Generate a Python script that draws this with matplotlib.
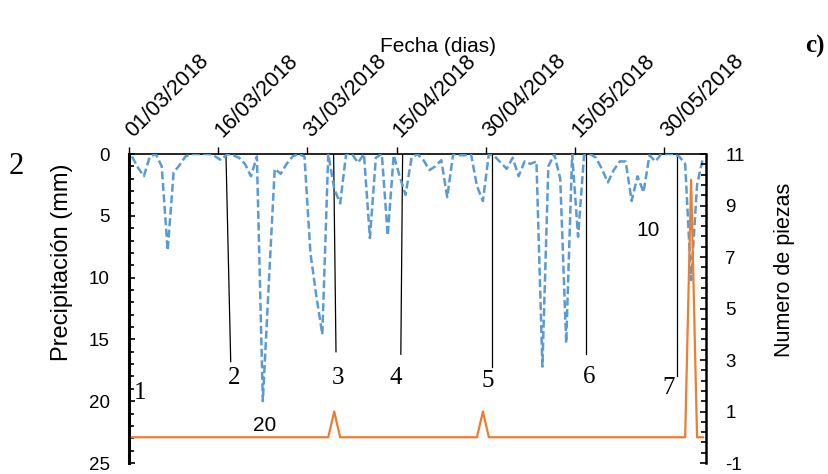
import matplotlib
matplotlib.use("Agg")
import matplotlib.pyplot as plt
import matplotlib.dates as mdates
from matplotlib.ticker import MultipleLocator
import pandas as pd

# daily precipitation (mm), 01/03/2018 .. 05/06/2018
precip = [0.2, 1.1, 1.8, 0.2, 0.0, 1.0, 7.8, 1.5, 0.9, 0.2,
          0.0, 0.0, 0.0, 0.0, 0.2, 0.5, 0.0, 0.1, 0.3, 0.8,
          1.8, 0.2, 20.0, 10.5, 1.2, 1.6, 0.8, 0.2, 0.0, 0.2,
          8.0, 11.5, 14.6, 0.0, 2.8, 4.0, 0.0, 0.0, 0.7, 0.0,
          6.8, 0.3, 0.0, 6.6, 0.1, 1.8, 3.3, 0.3, 0.0, 0.5,
          1.3, 1.0, 0.5, 3.5, 0.0, 0.1, 0.1, 0.0, 2.6, 3.8,
          0.0, 0.2, 0.7, 1.2, 0.3, 1.8, 0.6, 0.8, 0.6, 17.2,
          1.0, 0.0, 2.0, 15.3, 0.0, 6.7, 0.1, 0.0, 0.3, 1.2,
          2.3, 1.3, 0.6, 0.6, 3.8, 1.8, 3.1, 0.1, 0.6, 0.0,
          0.0, 0.0, 0.2, 0.8, 10.2, 2.5, 0.3]

# number of pieces found per day
piezas = [0] * 97
piezas[34] = 1
piezas[59] = 1
piezas[94] = 10

dates = pd.date_range("2018-03-01", periods=len(precip), freq="D")
tick_dates = pd.date_range("2018-03-01", periods=7, freq="15D")

# event markers: label, day at top, day at bottom, lower end (mm), label pos (day, mm)
event_labels = ["2", "3", "4", "5", "6", "7"]
event_day_top = [16.3, 34.4, 46.0, 61.1, 76.8, 92.2]
event_day_bot = [17.1, 34.8, 45.7, 61.1, 76.8, 92.2]
event_end_mm = [16.8, 16.0, 16.2, 17.2, 16.2, 18.0]
event_text_day = [17.6, 35.1, 44.9, 60.3, 77.3, 90.7]
event_text_mm = [18.1, 18.1, 18.1, 18.4, 18.05, 18.9]

blue = "#5B9BD5"
orange = "#ED7D31"

plt.rcParams["font.family"] = ["Liberation Sans", "DejaVu Sans"]
plt.rcParams["axes.unicode_minus"] = False

fig = plt.figure(figsize=(8.29, 4.74), dpi=100)
ax = fig.add_axes([0.1556, 0.0232, 0.696, 0.6519])

x0 = mdates.date2num(dates[0])
xc = mdates.date2num(dates) + 0.5

ax.plot(xc, precip, color=blue, lw=1.8, ls=(0, (3.2, 1.4)), zorder=3)
ax.set_ylim(25, 0)
ax.set_xlim(x0, x0 + 97)
ax.yaxis.set_major_locator(MultipleLocator(5))
ax.yaxis.set_minor_locator(MultipleLocator(1))

ax.xaxis.tick_top()
ax.set_xticks(mdates.date2num(tick_dates))
ax.set_xticklabels([d.strftime("%d/%m/%Y") for d in tick_dates],
                   rotation=45, ha="left", va="center", rotation_mode="anchor")
ax.tick_params(axis="x", which="major", direction="out", length=5, width=1,
               labelsize=15.5, pad=9)
ax.tick_params(axis="y", which="both", direction="in", labelsize=13.5, pad=14,
               width=1.2)
ax.tick_params(axis="y", which="major", length=4.5)
ax.tick_params(axis="y", which="minor", length=3.5)

ax.spines["bottom"].set_visible(False)
ax.spines["left"].set_linewidth(2.2)
ax.spines["top"].set_linewidth(1.2)
ax.spines["right"].set_visible(False)

ax.set_ylabel("Precipitación (mm)", fontsize=17)
ax.yaxis.set_label_coords(-0.097, 0.65)

# event lines and labels
for lab, dt, db, ym, tx, ty in zip(event_labels, event_day_top, event_day_bot,
                                   event_end_mm, event_text_day, event_text_mm):
    ax.plot([x0 + dt, x0 + db], [0, ym], color="black", lw=0.9, zorder=2)
    ax.text(x0 + tx, ty, lab, fontsize=18, family="Liberation Serif",
            ha="center", va="center")
ax.text(x0 + 1.85, 19.3, "1", fontsize=18, family="Liberation Serif",
        ha="center", va="center")
ax.text(x0 + 87.2, 6.2, "10", fontsize=15, ha="center", va="center")
ax.text(x0 + 22.8, 22.0, "20", fontsize=15, ha="center", va="center")

ax2 = ax.twinx()
ax2.plot(xc, piezas, color=orange, lw=1.6, zorder=4)
ax2.set_ylim(-1, 11)
ax2.yaxis.set_major_locator(MultipleLocator(2, offset=1))
ax2.yaxis.set_minor_locator(MultipleLocator(0.4, offset=0.2))
ax2.tick_params(axis="y", which="both", direction="in", labelsize=13.5, pad=14,
                width=1.2)
ax2.tick_params(axis="y", which="major", length=4.5)
ax2.tick_params(axis="y", which="minor", length=3.5)
for s in ["bottom", "top", "left"]:
    ax2.spines[s].set_visible(False)
ax2.spines["right"].set_linewidth(1.8)
ax2.set_ylabel("Numero de piezas", fontsize=15.5, rotation=90)
ax2.yaxis.set_label_coords(1.118, 0.625)

fig.text(0.528, 0.901, "Fecha (dias)", fontsize=15, ha="center", va="center")
fig.text(0.983, 0.901, "c)", fontsize=18, weight="bold",
         family="Liberation Serif", ha="center", va="center")
fig.text(0.02, 0.648, "2", fontsize=22, family="Liberation Serif",
         ha="center", va="center")

fig.savefig("out.png", dpi=100)
